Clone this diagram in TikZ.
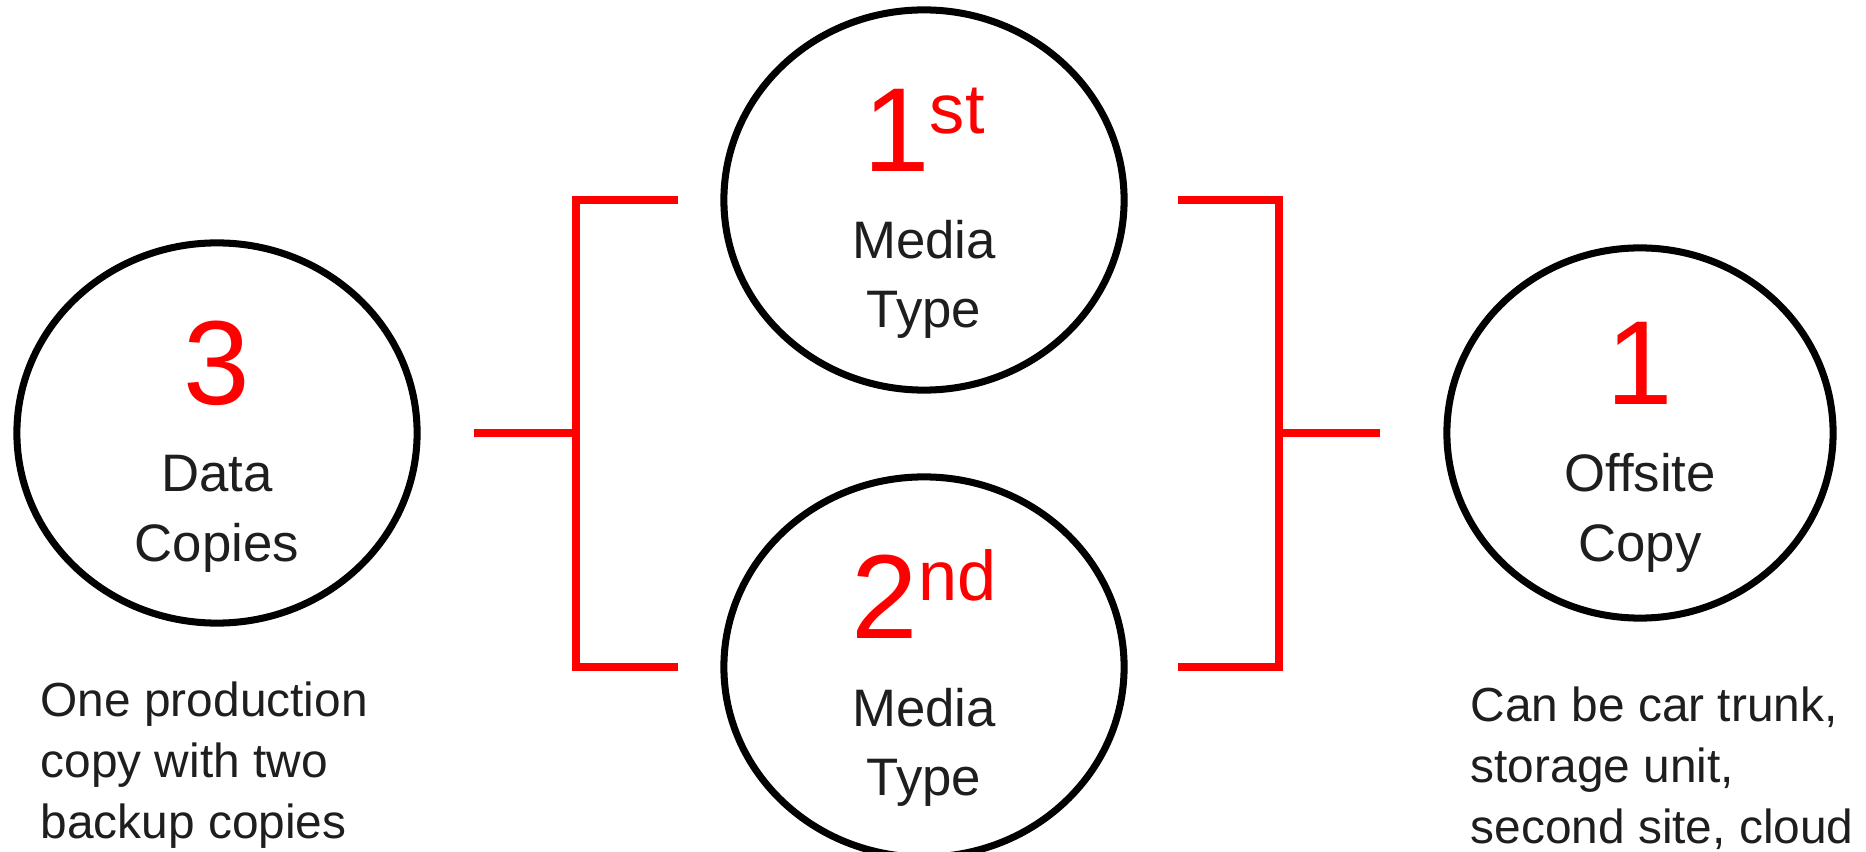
\documentclass[tikz,border=0pt]{standalone}
\usepackage{fontspec}
\setmainfont{Liberation Sans}
\usetikzlibrary{shapes.geometric,calc}
\definecolor{textgray}{HTML}{1E1E1E}
\newcommand{\ordsup}[1]{\raisebox{11pt}{\fontsize{20}{20}\selectfont #1}}

\begin{document}
\begin{tikzpicture}[x=0.01cm,y=-0.01cm,
    ring/.style={ellipse,draw=black,line width=2pt,minimum width=4cm,minimum height=3.8cm,inner sep=0pt},
    count/.style={text=red,font=\fontsize{34}{34}\selectfont,inner sep=0pt,anchor=base},
    ringtext/.style={text=textgray,font=\fontsize{15}{15}\selectfont,inner sep=0pt,anchor=base},
    note/.style={text=textgray,font=\fontsize{13.6}{17.4}\selectfont,align=left,inner sep=0pt,anchor=north west},
    bracket/.style={red,line width=2pt}]
        \useasboundingbox (0,0) rectangle (1866,852);

        \node[ring] (copies) at (217,433) {};
        \node[ring] (first) at (924,200) {};
        \node[ring] (second) at (924,667) {};
        \node[ring,minimum width=3.86cm,minimum height=3.7cm] (offsite) at (1640,433) {};

        \foreach \ring/\num/\wordone/\wordtwo in {copies/3/Data/Copies, first/{1\ordsup{st}}/Media/Type, second/{2\ordsup{nd}}/Media/Type, offsite/1/Offsite/Copy} {
            \node[count] (\ring-num) at ($(\ring)+(0,-28)$) {\num};
            \node[ringtext] (\ring-one) at ($(\ring)+(0,59)$) {\wordone};
            \node[ringtext] (\ring-two) at ($(\ring)+(0,128)$) {\wordtwo};
        }

        \node[note] (copies-note) at (40,681) {One production\\copy with two\\backup copies};
        \node[note] (offsite-note) at (1470,686) {Can be car trunk,\\storage unit,\\second site, cloud};

        \coordinate (lbrk-in) at (474,433);
        \coordinate (lbrk-mid) at (576,433);
        \coordinate (lbrk-top) at (678,200);
        \coordinate (lbrk-bot) at (678,667);
        \coordinate (rbrk-top) at (1178,200);
        \coordinate (rbrk-bot) at (1178,667);
        \coordinate (rbrk-mid) at (1279,433);
        \coordinate (rbrk-out) at (1380,433);

        \draw[bracket] (lbrk-in) -- (lbrk-mid);
        \draw[bracket] (lbrk-top) -| (lbrk-mid) |- (lbrk-bot);
        \draw[bracket] (rbrk-top) -| (rbrk-mid) |- (rbrk-bot);
        \draw[bracket] (rbrk-mid) -- (rbrk-out);
\end{tikzpicture}
\end{document}
